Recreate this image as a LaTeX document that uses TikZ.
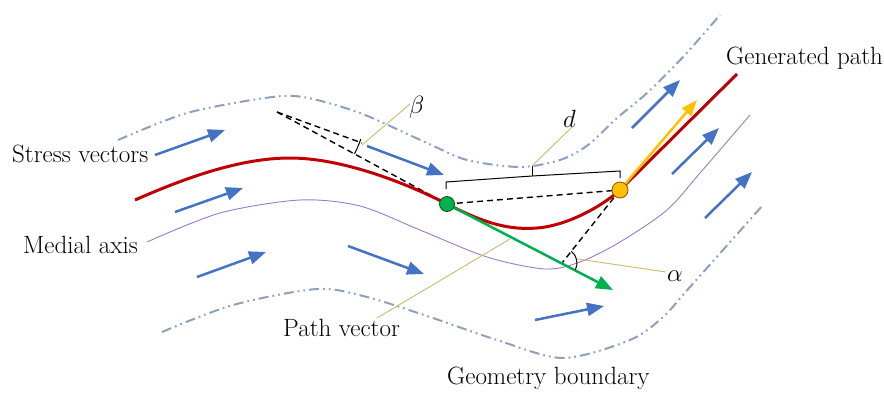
\documentclass[tikz,border=0pt]{standalone}
\usepackage{fontspec}
\usetikzlibrary{arrows.meta}
\definecolor{vblue}{RGB}{68,114,196}
\definecolor{pred}{RGB}{192,0,0}
\definecolor{pgreen}{RGB}{0,176,80}
\definecolor{porange}{RGB}{255,192,0}
\definecolor{mpurple}{RGB}{160,120,200}
\definecolor{ltan}{RGB}{205,185,110}
\definecolor{bnd}{RGB}{140,160,192}
\begin{document}
\begin{tikzpicture}[x=1pt,y=-1pt,
  lbl/.style={font=\fontsize{25}{30}\selectfont, inner sep=0pt, anchor=base west},
  sym/.style={font=\fontsize{30}{34}\selectfont, inner sep=0pt, anchor=base west},
  stressvec/.style={vblue, line width=2.5pt, -{Triangle[length=17pt,width=13pt]}},
  pathvec/.style={pgreen, line width=2.5pt, -{Triangle[length=17pt,width=13pt]}},
  nextvec/.style={porange, line width=2.5pt, -{Triangle[length=16pt,width=12pt]}},
  boundary/.style={bnd, line width=2pt, dash pattern=on 10pt off 4pt on 1.8pt off 4pt on 1.8pt off 4pt},
  medial/.style={mpurple, line width=0.9pt},
  genpath/.style={pred, line width=3pt},
  leader/.style={ltan, line width=0.9pt},
  helper/.style={black, line width=1.4pt, dash pattern=on 6pt off 4pt},
  bracket/.style={black, line width=1pt},
  anglearc/.style={black, line width=1pt},
  greendot/.style={circle, fill=pgreen, draw=green!35!black, line width=0.8pt, minimum size=15pt, inner sep=0pt},
  orangedot/.style={circle, fill=porange, draw=orange!60!black, line width=0.8pt, minimum size=16pt, inner sep=0pt}]
\useasboundingbox (0,0) rectangle (884,392);

% key points
\coordinate (G) at (447,204);
\coordinate (O) at (620,190);
\coordinate (PV) at (613,290);
\coordinate (OV) at (697,100);
\coordinate (BV) at (277,112);
\coordinate (BU) at (362,143);
\coordinate (AV) at (562,263);

% geometry boundaries
\draw[boundary] plot[smooth] coordinates {(118,140) (187,113) (265,98) (303,97) (360,113) (427,143) (467,160) (520,167) (560,160) (588,145) (617,118) (647,93) (683,57) (720,15)};
\draw[boundary] plot[smooth] coordinates {(162,332) (233,305) (317,289) (367,297) (430,317) (497,340) (563,358) (630,340) (663,317) (690,287) (763,205)};

% medial axis
\draw[medial] plot[smooth] coordinates {(147,242) (220,213) (300,200) (360,206) (420,230) (487,257) (545,269) (580,262) (620,242) (667,210) (700,173) (750,115)};

% stress vectors
\coordinate (s1a) at (155,155); \coordinate (s1b) at (225,130);
\coordinate (s2a) at (175,212); \coordinate (s2b) at (243,188);
\coordinate (s3a) at (197,277); \coordinate (s3b) at (266,252);
\coordinate (s4a) at (348,246); \coordinate (s4b) at (424,274);
\coordinate (s5a) at (367,146); \coordinate (s5b) at (444,175);
\coordinate (s6a) at (535,320); \coordinate (s6b) at (604,306);
\coordinate (s7a) at (632,128); \coordinate (s7b) at (680,80);
\coordinate (s8a) at (672,174); \coordinate (s8b) at (719,128);
\coordinate (s9a) at (705,218); \coordinate (s9b) at (752,172);
\foreach \i in {1,...,9} { \draw[stressvec] (s\i a) -- (s\i b); }

% helper dashed lines
\draw[helper] (BV) -- (G);
\draw[helper] (BV) -- (BU);
\draw[helper] (G) -- (O);
\draw[helper] (O) -- (AV);

% generated path
\draw[genpath] (135,200) .. controls (185,178) and (240,158) .. (290,158)
  .. controls (340,158) and (402,181) .. (G)
  .. controls (487,224.5) and (510,230) .. (537,228)
  .. controls (565,226) and (600,208) .. (O) -- (737,74);

% path vector and next vector
\draw[pathvec] (G) -- (PV);
\draw[nextvec] (O) -- (OV);

% angle arcs
\draw[anglearc] (BV) ++(-18:88pt) arc[start angle=-18, end angle=-28.5, radius=88pt];
\draw[anglearc] (AV) ++(51.5:15pt) arc[start angle=51.5, end angle=-27, radius=15pt];

% distance bracket
\coordinate (bl) at (446,189); \coordinate (bl2) at (446,182);
\coordinate (bm) at (532,176); \coordinate (bt) at (532,166);
\coordinate (br2) at (620,171); \coordinate (br) at (620,178);
\draw[bracket] (bl) -- (bl2) -- (bm) -- (br2) -- (br);
\draw[bracket] (bm) -- (bt);

% dots
\node[greendot] (Gdot) at (G) {};
\node[orangedot] (Odot) at (O) {};

% labels
\node[lbl] (stress) at (12,162) {Stress vectors};
\node[lbl] (gen) at (726,64) {Generated path};
\node[lbl] (med) at (23,253) {Medial axis};
\node[lbl] (pvec) at (283,336) {Path vector};
\node[lbl] (geo) at (447,384) {Geometry boundary};
\node[sym] (beta) at (409,113) {$\beta$};
\node[sym] (dlbl) at (563,127) {$d$};
\node[sym] (alpha) at (667,281) {$\alpha$};

% leaders
\coordinate (betaA) at (362,145); \coordinate (betaE) at (410,104);
\coordinate (dE) at (572,127);
\coordinate (alphaA) at (578,259); \coordinate (alphaE) at (666,272);
\coordinate (pvA) at (377,318); \coordinate (pvE) at (510,239);
\draw[leader] (betaA) -- (betaE);
\draw[leader] (bt) -- (dE);
\draw[leader] (alphaA) -- (alphaE);
\draw[leader] (pvA) -- (pvE);
\end{tikzpicture}
\end{document}
